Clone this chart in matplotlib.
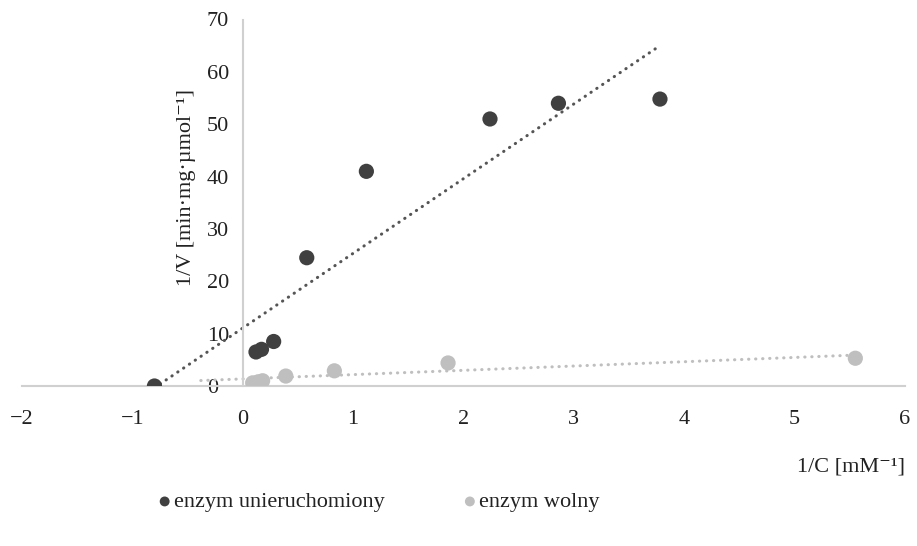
import numpy as np
import matplotlib
matplotlib.use('Agg')
import matplotlib.pyplot as plt

plt.rcParams['font.family'] = ['Liberation Serif', 'DejaVu Serif']

# enzym unieruchomiony (immobilised)
x_imm = [-0.8, 0.12, 0.17, 0.28, 0.58, 1.12, 2.24, 2.86, 3.78]
y_imm = [0.0, 6.5, 7.0, 8.5, 24.5, 41.0, 51.0, 54.0, 54.8]

# enzym wolny (free)
x_free = [0.09, 0.14, 0.18, 0.39, 0.83, 1.86, 5.55]
y_free = [0.6, 0.8, 1.0, 1.9, 2.9, 4.4, 5.3]

dark = '#404040'
light = '#BFBFBF'
axis_col = '#D0D0D0'

fig = plt.figure(figsize=(9.17, 5.46), dpi=100)
ax = fig.add_axes([22 / 917, 160 / 546, 883 / 917, 366.5 / 546])

# linear trendlines (least squares)
k1, b1 = np.polyfit(x_imm, y_imm, 1)
xs1 = np.array([min(x_imm), max(x_imm)])
ax.plot(xs1, k1 * xs1 + b1, color='#555555', lw=2.2,
        linestyle=(0, (0.1, 2.2)), dash_capstyle='round', zorder=2)

k2, b2 = np.polyfit(x_free, y_free, 1)
xs2 = np.array([min(x_free) - 0.47, max(x_free)])
ax.plot(xs2, k2 * xs2 + b2, color=light, lw=2.2,
        linestyle=(0, (0.1, 2.2)), dash_capstyle='round', zorder=2)

ax.scatter(x_imm, y_imm, s=120, color=dark, edgecolors='none', zorder=3,
           label='enzym unieruchomiony')
ax.scatter(x_free, y_free, s=120, color=light, edgecolors='none', zorder=3,
           label='enzym wolny')

ax.set_xlim(-2, 6)
ax.set_ylim(0, 70)
ax.set_xticks(range(-2, 7))
ax.set_xticklabels(['\u22122', '\u22121', '0', '1', '2', '3', '4', '5', '6'])
ax.set_yticks(range(0, 71, 10))

for s in ['top', 'right']:
    ax.spines[s].set_visible(False)
ax.spines['left'].set_position(('data', 0))
ax.spines['bottom'].set_position(('data', 0))
for s in ['left', 'bottom']:
    ax.spines[s].set_color(axis_col)
    ax.spines[s].set_linewidth(1.5)

ax.tick_params(axis='both', length=0, labelsize=16, colors='#222222')
ax.tick_params(axis='x', pad=17)
ax.tick_params(axis='y', pad=26)
for lab in ax.get_yticklabels():
    lab.set_horizontalalignment('left')

fig.text(187 / 917, 1 - 187 / 546, '1/V [min\u00b7mg\u00b7\u00b5mol\u207b\u00b9]',
         rotation=90, ha='center', va='center', fontsize=16, color='#222222')
fig.text(905 / 917, 1 - 467 / 546, '1/C [mM\u207b\u00b9]',
         ha='right', va='center', fontsize=16, color='#222222')

fig.legend(loc='center left', bbox_to_anchor=(148 / 917, 44 / 546), ncol=2,
           frameon=False, fontsize=16, markerscale=0.65, handlelength=0.5,
           handletextpad=0.15, columnspacing=3.6, borderpad=0,
           labelcolor='#222222')

fig.savefig('out.png', dpi=100)
